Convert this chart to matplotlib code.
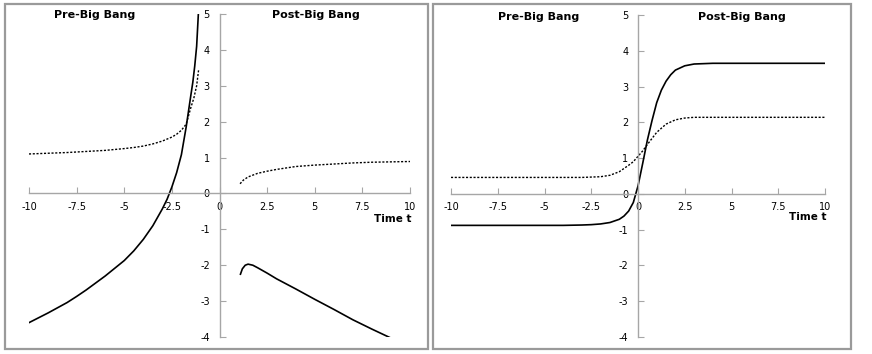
import matplotlib
matplotlib.use("Agg")
from matplotlib import pyplot as plt
from matplotlib.patches import Rectangle

plt.rcParams['axes.unicode_minus'] = False
plt.rcParams['font.family'] = ['DejaVu Sans']

# x ticks / y ticks shared by both charts
x_ticks = [-10, -7.5, -5, -2.5, 0, 2.5, 5, 7.5, 10]
x_tick_labels = ['-10', '-7.5', '-5', '-2.5', '0', '2.5', '5', '7.5', '10']
y_ticks = [-4, -3, -2, -1, 0, 1, 2, 3, 4, 5]

# left chart, before the bang
pre_x_solid = [-10, -9, -8, -7.5, -7, -6, -5, -4.5, -4, -3.5, -3, -2.75, -2.5,
               -2.25, -2, -1.75, -1.5, -1.4, -1.3, -1.2, -1.11]
pre_y_solid = [-3.6, -3.33, -3.04, -2.87, -2.69, -2.3, -1.87, -1.6, -1.28, -0.9,
               -0.43, -0.16, 0.18, 0.58, 1.08, 1.85, 2.75, 3.1, 3.55, 4.1, 5.0]
pre_x_dot = [-10, -9, -8, -7, -6, -5, -4.5, -4, -3.5, -3, -2.5, -2.25, -2,
             -1.75, -1.5, -1.35, -1.2, -1.1]
pre_y_dot = [1.1, 1.12, 1.14, 1.17, 1.2, 1.25, 1.28, 1.32, 1.38, 1.46, 1.57,
             1.65, 1.76, 1.93, 2.4, 2.65, 3.0, 3.43]

# left chart, after the bang
post_x_solid = [1.1, 1.2, 1.35, 1.5, 1.75, 2, 2.5, 3, 4, 5, 6, 7, 8, 9]
post_y_solid = [-2.25, -2.1, -2.0, -1.97, -2.0, -2.07, -2.22, -2.38, -2.66,
                -2.95, -3.23, -3.52, -3.78, -4.03]
post_x_dot = [1.08, 1.25, 1.5, 2, 2.5, 3, 4, 5, 6, 7, 8, 9, 10]
post_y_dot = [0.27, 0.37, 0.46, 0.56, 0.62, 0.67, 0.75, 0.79, 0.82, 0.85,
              0.87, 0.88, 0.89]

# right chart, one smooth curve through the bang
r_x_solid = [-10, -8, -6, -4, -3, -2.5, -2, -1.5, -1, -0.75, -0.5, -0.25, 0,
             0.25, 0.5, 0.75, 1, 1.25, 1.5, 1.75, 2, 2.5, 3, 4, 6, 8, 10]
r_y_solid = [-0.88, -0.88, -0.88, -0.88, -0.87, -0.86, -0.84, -0.8, -0.71,
             -0.62, -0.48, -0.24, 0.22, 0.85, 1.5, 2.05, 2.55, 2.9, 3.15,
             3.33, 3.46, 3.58, 3.63, 3.65, 3.65, 3.65, 3.65]
r_x_dot = [-10, -8, -6, -4, -3, -2.5, -2, -1.5, -1, -0.5, -0.25, 0, 0.25,
           0.5, 0.75, 1, 1.5, 2, 2.5, 3, 4, 6, 8, 10]
r_y_dot = [0.46, 0.46, 0.46, 0.46, 0.46, 0.47, 0.48, 0.52, 0.62, 0.8, 0.9,
           1.05, 1.2, 1.38, 1.55, 1.72, 1.95, 2.07, 2.12, 2.14, 2.14, 2.14,
           2.14, 2.14]

W, H = 872, 354
fig = plt.figure(figsize=(W / 100, H / 100), dpi=100)


def px_axes(x0, x1, ytop, ybot):
    return fig.add_axes([x0 / W, 1 - ybot / H, (x1 - x0) / W, (ybot - ytop) / H])


def style_axes(ax):
    ax.set_xlim(-10, 10)
    ax.set_ylim(-4, 5)
    for s in ['top', 'right']:
        ax.spines[s].set_visible(False)
    for s in ['left', 'bottom']:
        ax.spines[s].set_position('zero')
        ax.spines[s].set_color('#a6a6a6')
        ax.spines[s].set_linewidth(1)
    ax.set_xticks(x_ticks)
    ax.set_xticklabels(x_tick_labels)
    ax.set_yticks(y_ticks)
    ax.tick_params(axis='x', direction='in', length=4, color='#a6a6a6',
                   labelsize=7, pad=6)
    ax.tick_params(axis='y', direction='in', length=4, color='#a6a6a6',
                   labelsize=7, pad=7)
    ax.patch.set_alpha(0)


def border(x0, x1, ytop, ybot):
    fig.patches.append(Rectangle((x0 / W, 1 - ybot / H), (x1 - x0) / W,
                                 (ybot - ytop) / H, transform=fig.transFigure,
                                 fill=False, edgecolor='#9a9a9a', linewidth=1.6))


tfont = dict(fontsize=8, fontweight='bold', ha='center', va='center')

# left panel
border(5, 428, 4, 349)
ax1 = px_axes(29, 410, 14, 337)
style_axes(ax1)
ax1.plot(pre_x_solid, pre_y_solid, color='black', lw=1.2)
ax1.plot(pre_x_dot, pre_y_dot, color='black', lw=1, ls=(0, (1.5, 1.2)))
ax1.plot(post_x_solid, post_y_solid, color='black', lw=1.2)
ax1.plot(post_x_dot, post_y_dot, color='black', lw=1, ls=(0, (1.5, 1.2)))
ax1.text(0.173, 0.997, 'Pre-Big Bang', transform=ax1.transAxes, **tfont)
ax1.text(0.753, 0.997, 'Post-Big Bang', transform=ax1.transAxes, **tfont)
ax1.text(1.003, 0.365, 'Time t', transform=ax1.transAxes, fontsize=7.5,
         fontweight='bold', ha='right', va='center')

# right panel
border(433, 851, 4, 349)
ax2 = px_axes(451, 825, 15, 337)
style_axes(ax2)
ax2.plot(r_x_solid, r_y_solid, color='black', lw=1.2)
ax2.plot(r_x_dot, r_y_dot, color='black', lw=1, ls=(0, (1.5, 1.2)))
ax2.text(0.233, 0.994, 'Pre-Big Bang', transform=ax2.transAxes, **tfont)
ax2.text(0.778, 0.994, 'Post-Big Bang', transform=ax2.transAxes, **tfont)
ax2.text(1.003, 0.373, 'Time t', transform=ax2.transAxes, fontsize=7.5,
         fontweight='bold', ha='right', va='center')

fig.savefig('out.png', dpi=100)
